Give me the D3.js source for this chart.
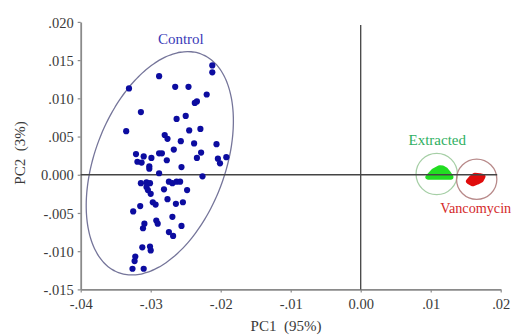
<!DOCTYPE html>
<html><head><meta charset="utf-8">
<script src="https://cdn.jsdelivr.net/npm/d3@7"></script>
<style>
html,body{margin:0;padding:0;background:#fff;}
svg{display:block;font-family:"Liberation Serif","DejaVu Serif",serif;}
</style></head>
<body>
<svg id="chart" width="514" height="336"></svg>
<script>
// ---- data ----
const xTicks = [-0.04, -0.03, -0.02, -0.01, 0, 0.01, 0.02];
const xTickLabels = ["-.04", "-.03", "-.02", "-.01", "0.00", ".01", ".02"];
const yTicks = [0.02, 0.015, 0.01, 0.005, 0, -0.005, -0.01, -0.015];
const yTickLabels = [".020", ".015", ".010", ".005", "0.000", "-.005", "-.010", "-.015"];

const controlPC1 = [-0.0212,-0.0212,-0.0288,-0.0331,-0.0265,-0.0246,-0.0220,-0.0234,-0.0237,-0.0314,
  -0.0263,-0.0250,-0.0335,-0.0245,-0.0229,-0.0280,-0.0276,-0.0257,-0.0238,-0.0206,
  -0.0267,-0.0288,-0.0284,-0.0228,-0.0234,-0.0192,-0.0204,-0.0201,-0.0321,-0.0310,
  -0.0299,-0.0319,-0.0313,-0.0302,-0.0302,-0.0277,-0.0256,-0.0288,-0.0226,-0.0314,
  -0.0306,-0.0301,-0.0306,-0.0304,-0.0300,-0.0274,-0.0269,-0.0263,-0.0258,-0.0281,
  -0.0248,-0.0276,-0.0297,-0.0293,-0.0264,-0.0254,-0.0315,-0.0325,-0.0269,-0.0292,
  -0.0290,-0.0309,-0.0311,-0.0256,-0.0274,-0.0268,-0.0312,-0.0301,-0.0300,-0.0322,
  -0.0323,-0.0326,-0.0310];
const controlPC2 = [0.0143,0.0134,0.0129,0.0113,0.0115,0.0115,0.0105,0.0096,0.0094,0.0082,
  0.0073,0.0077,0.0057,0.0058,0.0060,0.0052,0.0047,0.0044,0.0041,0.0040,
  0.0033,0.0028,0.0028,0.0029,0.0022,0.0023,0.0021,0.0015,0.0027,0.0024,
  0.0022,0.0017,0.0016,0.0011,0.0008,0.0019,0.0010,0.0002,-0.0002,-0.0011,
  -0.0010,-0.0011,-0.0016,-0.0020,-0.0025,-0.0009,-0.0011,-0.0009,-0.0009,-0.0019,
  -0.0020,-0.0032,-0.0036,-0.0039,-0.0038,-0.0036,-0.0041,-0.0048,-0.0055,-0.0060,
  -0.0064,-0.0064,-0.0070,-0.0067,-0.0075,-0.0080,-0.0095,-0.0094,-0.0099,-0.0107,
  -0.0113,-0.0123,-0.0123];

const extractedPC1 = [0.00964,0.00986,0.01029,0.01071,0.01114,0.01157,0.01200,0.01243,0.01271,0.01286,
  0.01043,0.01086,0.01129,0.01171,0.01214,0.01114,0.01186,0.01250];
const extractedPC2 = [-0.00030,-0.00015,-0.00012,-0.00012,-0.00012,-0.00012,-0.00012,-0.00012,-0.00012,-0.00030,
  0.00046,0.00068,0.00090,0.00085,0.00060,0.00033,0.00033,0.00020];

const vancoPC1 = [0.01543,0.01586,0.01629,0.01671,0.01714,0.01743,0.01614,0.01671,0.01571,0.01700,
  0.01600,0.01660,0.01720,0.01630,0.01580];
const vancoPC2 = [-0.00085,-0.00072,-0.00059,-0.00046,-0.00033,-0.00026,-0.00039,-0.00020,-0.00098,-0.00015,
  -0.00115,-0.00095,-0.00065,-0.00010,-0.00045];

// group ellipse (data units): centre, two semi-axis vectors
const controlEllipse = {center: [-0.0287, 0.0015], u: [0.0059, 0.0143], v: [0.0087, -0.0030]};
// group circles: centre and radius in PC1 units
const groupCircles = [
  {name: "Extracted", center: [0.01086, 0.0001], r: 0.00295},
  {name: "Vancomycin", center: [0.01657, -0.00059], r: 0.00288}
];
const labels = [
  {text: "Control", pos: [-0.0257, 0.01706], anchor: "middle", color: "#3a3ab8", size: 15},
  {text: "Extracted", pos: [0.01094, 0.00389], anchor: "middle", color: "#2fb062", size: 15},
  {text: "Vancomycin", pos: [0.01137, -0.00501], anchor: "start", color: "#d42a2a", size: 14.2}
];

// ---- chart ----
const svg = d3.select("#chart");
const x = d3.scaleLinear().domain([-0.04, 0.02]).range([80.7, 500.7]);
const y = d3.scaleLinear().domain([-0.015, 0.02]).range([289.4, 21.9]);

// axes
const xAxis = svg.append("g").attr("transform", `translate(0,${y(-0.015)})`)
  .call(d3.axisBottom(x).tickValues(xTicks).tickFormat((d, i) => xTickLabels[i]).tickSize(3).tickSizeOuter(0).tickPadding(6));
const yAxis = svg.append("g").attr("transform", `translate(${x(-0.04)},0)`)
  .call(d3.axisLeft(y).tickValues(yTicks).tickFormat((d, i) => yTickLabels[i]).tickSize(3).tickSizeOuter(0).tickPadding(4));
[xAxis, yAxis].forEach(g => {
  g.select(".domain").attr("stroke", "#8a8a8a").attr("stroke-width", 1.8);
  g.selectAll(".tick line").attr("stroke", "#8a8a8a").attr("stroke-width", 1.2);
  g.selectAll(".tick text").attr("fill", "#3a3a3a").attr("font-size", 14.5)
    .attr("font-family", "Liberation Serif, DejaVu Serif, serif");
});
yAxis.selectAll(".tick text").attr("dy", "0.36em");

// ellipse
const tSteps = d3.range(0, 360, 3).map(a => a * Math.PI / 180);
const ell = tSteps.map(t => [
  controlEllipse.center[0] + controlEllipse.u[0] * Math.cos(t) + controlEllipse.v[0] * Math.sin(t),
  controlEllipse.center[1] + controlEllipse.u[1] * Math.cos(t) + controlEllipse.v[1] * Math.sin(t)
]);
svg.append("path").attr("d", d3.line().x(d => x(d[0])).y(d => y(d[1])).curve(d3.curveCardinalClosed)(ell))
  .attr("fill", "none").attr("stroke", "#75759a").attr("stroke-width", 1.3);

// group circles
const circColors = ["#a6cfa6", "#b88a8a"];
groupCircles.forEach((c, i) => {
  svg.append("circle").attr("cx", x(c.center[0])).attr("cy", y(c.center[1]))
    .attr("r", x(c.center[0] + c.r) - x(c.center[0]))
    .attr("fill", "none").attr("stroke", circColors[i]).attr("stroke-width", 1.3);
});

// dense groups drawn as filled hulls of their points
function blob(px, py, color) {
  const pts = px.map((d, i) => [x(d), y(py[i])]);
  const hull = d3.polygonHull(pts);
  svg.append("path").attr("d", "M" + hull.join("L") + "Z")
    .attr("fill", color).attr("stroke", color).attr("stroke-width", 5.5).attr("stroke-linejoin", "round");
}
blob(extractedPC1, extractedPC2, "#22dd22");
blob(vancoPC1, vancoPC2, "#e00c0c");

// zero reference lines
svg.append("line").attr("x1", x(-0.04)).attr("x2", x(0.0195)).attr("y1", y(0)).attr("y2", y(0))
  .attr("stroke", "#444").attr("stroke-width", 1.3);
svg.append("line").attr("x1", x(0)).attr("x2", x(0)).attr("y1", y(0.0196)).attr("y2", y(-0.015))
  .attr("stroke", "#444").attr("stroke-width", 1.3);

// control points
svg.append("g").selectAll("circle").data(controlPC1).join("circle")
  .attr("cx", d => x(d)).attr("cy", (d, i) => y(controlPC2[i])).attr("r", 3.1).attr("fill", "#0c0ca0");

// group labels
labels.forEach(l => {
  svg.append("text").attr("x", x(l.pos[0])).attr("y", y(l.pos[1])).attr("text-anchor", l.anchor)
    .attr("fill", l.color).attr("font-size", l.size).text(l.text);
});

// axis titles
svg.append("text").attr("x", 286).attr("y", 331).attr("text-anchor", "middle")
  .attr("fill", "#3a3a3a").attr("font-size", 15).style("white-space", "pre").text("PC1  (95%)");
svg.append("text").attr("transform", "translate(25,153) rotate(-90)").attr("text-anchor", "middle")
  .attr("fill", "#3a3a3a").attr("font-size", 15).style("white-space", "pre").text("PC2  (3%)");
</script>
</body></html>
